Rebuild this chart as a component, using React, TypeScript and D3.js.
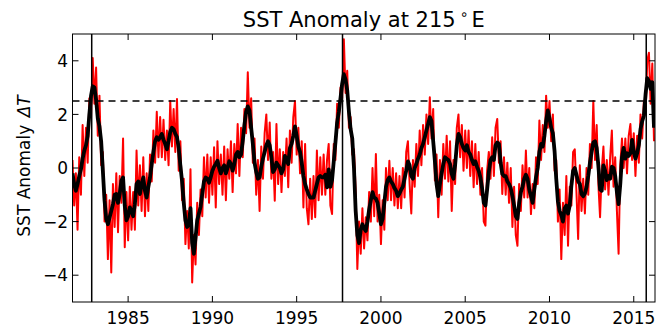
import React from "react";
import * as d3 from "d3";

// Time base of both series: first sample year and spacing (years)
const startYear = 1981.7;
const stepYears = 0.1;

// Weekly-ish SST anomaly (red, noisy), sampled every 0.1 yr
const rawAnomaly: number[] = [
  0.3, -1.4, -0.2, -2.3, 0.4, -1.0, 1.6, -0.3, 1.5, 0.2,
  2.6, 1.9, 4.1, 2.4, 3.75, 1.2, 2.7, 0.1, 0.6, -2.0,
  -1.0, -3.4, -1.2, -3.9, -0.6, -2.2, -0.2, -2.4, -0.3, -1.3,
  1.1, -2.96, -0.9, -2.7, -0.7, -2.3, -0.9, -2.3, 0.65, -1.4,
  0.1, -1.6, 0.4, -1.8, -0.2, -1.6, 0.5, -0.5, 1.4, 0.2,
  2.1, 0.4, 1.9, 0.4, 1.8, 0.3, 1.4, 0.1, 2.5, 0.8,
  2.2, 0.6, 2.57, -0.1, 1.0, -1.2, -0.4, -2.84, -1.6, -3.0,
  -0.05, -4.27, -2.5, -3.6, -1.3, -2.5, -0.8, -1.8, 0.4, -1.1,
  0.5, -1.3, 0.4, -1.0, 0.77, -1.47, 1.0, -0.6, 0.5, -1.0,
  0.8, -1.2, 0.7, -0.4, 1.0, -0.9, 0.9, -0.2, 1.64, -0.3,
  1.5, 0.4, 2.2, 1.3, 3.57, 1.5, 2.6, 0.2, 1.1, -1.0,
  0.3, -1.6, 0.8, -0.4, 1.3, 2.0, 0.3, 1.7, -0.4, 0.6,
  -1.22, 1.64, -0.6, 0.7, -0.9, 0.6, -0.3, 1.1, -0.72, 1.4,
  0.2, 1.9, 2.5, 0.5, 1.5, -0.2, 1.0, -1.47, 0.9, -1.5,
  -2.1, -0.4, -1.9, -0.3, -1.84, 0.65, -1.2, 0.4, -1.0, 0.5,
  -1.0, 0.3, 0.9, -1.4, -1.72, 0.9, 0.3, 2.4, 1.5, 3.0,
  2.6, 4.8, 2.8, 3.63, 1.5, 1.9, 0.5, 0.7, -0.85, -3.77,
  -2.0, -3.2, -1.5, -3.0, -1.84, -2.7, -0.9, -2.0, 0.0, -1.8,
  0.52, -2.0, -1.0, -2.84, -1.2, -2.3, 0.0, -1.2, 0.27, -1.2,
  0.0, -1.4, -0.2, -1.5, -0.3, -1.5, 0.0, -1.1, 0.6, 1.0,
  -0.6, -1.7, 0.3, -0.7, 0.9, -0.3, 1.4, 0.1, 1.6, 0.5,
  2.0, 0.9, 2.64, 1.1, 2.2, -0.47, 0.5, -1.84, 0.3, -1.0,
  0.9, -0.4, 1.2, -0.5, 1.0, -1.6, 0.3, -0.6, 1.5, 2.0,
  0.4, 1.6, -0.1, 1.4, 0.0, 1.4, -0.3, 1.0, -0.72, 0.9,
  -0.6, 0.6, -1.0, 0.0, -2.0, -2.15, -0.1, 0.6, -0.4, 1.15,
  -0.3, 1.5, 1.83, 0.2, 1.0, -0.97, 0.4, -1.0, 0.2, -1.3,
  0.0, -2.2, -0.7, -2.5, -2.9, -0.6, -1.6, 0.1, -1.1, 0.65,
  -1.1, 0.0, -1.72, -0.6, -1.5, 0.4, -0.6, 1.77, 0.3, 1.6,
  0.6, 2.7, 1.5, 2.5, 1.0, 2.0, -0.1, 0.3, -2.0, -0.8,
  -3.4, -1.3, -2.5, -0.3, -2.9, -0.7, -1.4, 0.6, 0.7, -0.9,
  -2.65, 0.1, -1.6, -0.4, -1.7, 0.0, -1.0, 0.9, 0.0, 2.5,
  0.3, 1.6, -0.6, -1.84, -0.1, 0.8, -0.8, 0.3, -1.0, 0.4,
  1.4, -0.7, 0.4, -1.6, -3.2, 0.1, 1.1, 0.0, 1.1, -0.2,
  1.2, 1.64, 0.3, 1.3, -0.3, 1.2, 0.2, 2.0, 1.1, 2.5,
  2.0, 4.0, 4.3, 2.4, 3.9, 1.0,
];

// Smoothed anomaly (black), same time base
const smoothAnomaly: number[] = [
  -0.2, -0.6, -0.85, -0.6, -0.3, -0.05, 0.35, 0.65, 0.85, 1.2,
  2.0, 2.7, 3.05, 3.0, 2.55, 1.85, 1.55, 1.0, -0.1, -1.2,
  -1.9, -2.1, -1.85, -1.6, -1.35, -1.0, -0.97, -1.3, -0.97, -0.47,
  -0.35, -1.4, -1.95, -1.8, -1.47, -1.6, -1.8, -1.35, -0.6, -0.5,
  -0.97, -0.6, -0.35, -0.85, -1.1, -0.7, -0.35, 0.15, 0.6, 1.0,
  1.15, 1.05, 1.15, 1.27, 1.05, 0.9, 0.7, 1.0, 1.35, 1.5,
  1.45, 1.27, 1.15, 0.75, 0.1, -0.5, -1.3, -1.95, -2.2, -2.1,
  -1.5, -2.8, -3.2, -2.6, -1.95, -1.7, -1.45, -0.95, -0.5, -0.35,
  -0.4, -0.55, -0.35, -0.1, 0.05, 0.15, 0.27, 0.0, -0.2, 0.0,
  0.1, -0.2, 0.0, 0.25, 0.15, -0.1, 0.15, 0.5, 0.6, 0.4,
  0.5, 1.0, 1.6, 2.1, 2.3, 2.15, 1.5, 0.9, 0.2, -0.15,
  -0.4, -0.35, 0.05, 0.35, 0.6, 0.85, 1.0, 0.85, 0.4, -0.15,
  -0.05, 0.2, 0.1, 0.0, -0.2, -0.05, 0.45, 0.3, 0.15, 0.75,
  0.9, 1.2, 1.55, 1.2, 0.8, 0.6, 0.2, -0.3, -0.6, -0.8,
  -0.97, -1.1, -1.1, -1.1, -0.85, -0.6, -0.35, -0.3, -0.35, -0.35,
  -0.25, -0.72, -0.05, -0.7, -0.45, 0.25, 0.95, 1.7, 2.1, 2.6,
  3.15, 3.5, 3.3, 2.9, 2.1, 1.45, 1.1, 0.0, -1.6, -2.5,
  -2.8, -2.3, -2.1, -2.25, -2.35, -2.0, -1.55, -1.2, -0.9, -1.1,
  -1.15, -1.3, -1.7, -2.1, -1.9, -1.3, -0.7, -0.45, -0.35, -0.5,
  -0.6, -0.75, -0.85, -1.05, -0.95, -0.8, -0.7, -0.4, -0.1, 0.25,
  0.1, -0.3, -0.4, 0.0, 0.15, 0.35, 0.5, 0.75, 0.9, 1.15,
  1.4, 1.64, 1.9, 1.75, 1.0, 0.27, -0.6, -1.05, -0.6, -0.2,
  0.15, 0.4, 0.35, 0.3, 0.15, -0.22, -0.4, 0.1, 0.85, 1.27,
  1.15, 0.9, 0.75, 0.65, 0.85, 0.6, 0.5, 0.3, 0.15, 0.25,
  0.05, -0.1, -0.35, -0.75, -1.3, -1.4, -0.8, -0.15, 0.3, 0.4,
  0.3, 0.85, 0.95, 0.9, 0.2, -0.22, -0.3, -0.3, -0.5, -0.6,
  -0.75, -1.05, -1.4, -1.8, -1.9, -1.3, -0.9, -0.7, -0.4, -0.25,
  -0.4, -0.8, -1.05, -1.3, -0.8, -0.35, 0.0, 0.6, 0.9, 0.8,
  1.2, 1.75, 2.15, 1.85, 1.5, 1.3, 0.65, -0.4, -1.25, -1.6,
  -1.75, -2.0, -1.5, -1.4, -1.7, -1.4, -0.65, -0.1, 0.0, -0.25,
  -0.5, -0.6, -0.97, -1.05, -0.95, -0.7, -0.3, 0.2, 0.6, 0.95,
  1.0, 0.75, 0.1, -0.8, -0.85, 0.1, -0.1, -0.45, -0.3, -0.4,
  0.05, 0.0, -0.3, -0.9, -1.35, -0.6, 0.4, 0.75, 0.35, 0.55,
  0.45, 0.55, 1.05, 0.6, 0.35, 0.55, 0.85, 1.45, 1.75, 1.95,
  2.75, 3.35, 3.25, 2.95, 3.2, 1.5,
];

// El Niño peak markers (years) and threshold
const eventYears: number[] = [1982.84, 1997.72, 2015.74];
const threshold = 2.5;

const xTicks: number[] = [1985, 1990, 1995, 2000, 2005, 2010, 2015];
const yTicks: number[] = [-4, -2, 0, 2, 4];
const xDomain: [number, number] = [1981.7, 2016.26];
const yDomain: [number, number] = [-5, 5];

const W = 658;
const H = 327;
const M = { left: 72.5, right: 655, top: 34, bottom: 302 };
const FONT = "'DejaVu Sans', sans-serif";

export default function App() {
  const x = d3.scaleLinear().domain(xDomain).range([M.left, M.right]);
  const y = d3.scaleLinear().domain(yDomain).range([M.bottom, M.top]);
  const line = d3
    .line<number>()
    .x((_, i) => x(startYear + i * stepYears))
    .y((v) => y(v));
  const tickLen = 6;
  const fmt = (v: number) => (v < 0 ? "\u2212" + Math.abs(v) : String(v));

  return (
    <svg
      width={W}
      height={H}
      style={{ position: "absolute", left: 0, top: 0, background: "#fff" }}
      fontFamily={FONT}
    >
      <defs>
        <clipPath id="plot">
          <rect x={M.left} y={M.top} width={M.right - M.left} height={M.bottom - M.top} />
        </clipPath>
      </defs>
      <rect x={0} y={0} width={W} height={H} fill="#fff" />
      <g clipPath="url(#plot)">
        <path d={line(rawAnomaly) || ""} fill="none" stroke="#ff0000" strokeWidth={2} strokeLinejoin="round" />
        <path d={line(smoothAnomaly) || ""} fill="none" stroke="#000" strokeWidth={3.8} strokeLinejoin="round" />
        <line
          x1={M.left}
          x2={M.right}
          y1={y(threshold)}
          y2={y(threshold)}
          stroke="#000"
          strokeWidth={1.3}
          strokeDasharray="7,5"
        />
        {eventYears.map((e) => (
          <line key={e} x1={x(e)} x2={x(e)} y1={M.top} y2={M.bottom} stroke="#000" strokeWidth={1.5} />
        ))}
      </g>
      {/* ticks (inward, all four sides) */}
      {xTicks.map((t) => (
        <g key={"x" + t}>
          <line x1={x(t)} x2={x(t)} y1={M.bottom} y2={M.bottom - tickLen} stroke="#000" />
          <line x1={x(t)} x2={x(t)} y1={M.top} y2={M.top + tickLen} stroke="#000" />
          <text x={x(t)} y={323.5} textAnchor="middle" fontSize={17} fill="#000">
            {t}
          </text>
        </g>
      ))}
      {yTicks.map((t) => (
        <g key={"y" + t}>
          <line x1={M.left} x2={M.left + tickLen} y1={y(t)} y2={y(t)} stroke="#000" />
          <line x1={M.right} x2={M.right - tickLen} y1={y(t)} y2={y(t)} stroke="#000" />
          <text x={M.left - 4.5} y={y(t)} dy="0.36em" textAnchor="end" fontSize={17} fill="#000">
            {fmt(t)}
          </text>
        </g>
      ))}
      <rect
        x={M.left}
        y={M.top}
        width={M.right - M.left}
        height={M.bottom - M.top}
        fill="none"
        stroke="#000"
        strokeWidth={1}
      />
      <text
        transform={`translate(30,${(M.top + M.bottom) / 2 - 2}) rotate(-90)`}
        textAnchor="middle"
        fontSize={17}
        fill="#000"
      >
        SST Anomaly <tspan fontStyle="italic" dx={2}>ΔT</tspan>
      </text>
      <text x={(M.left + M.right) / 2} y={27} textAnchor="middle" fontSize={21} fill="#000">
        SST Anomaly at 215<tspan dy={-8} dx={4} fontSize={14}>∘</tspan>
        <tspan dy={8} dx={3}>E</tspan>
      </text>
    </svg>
  );
}
